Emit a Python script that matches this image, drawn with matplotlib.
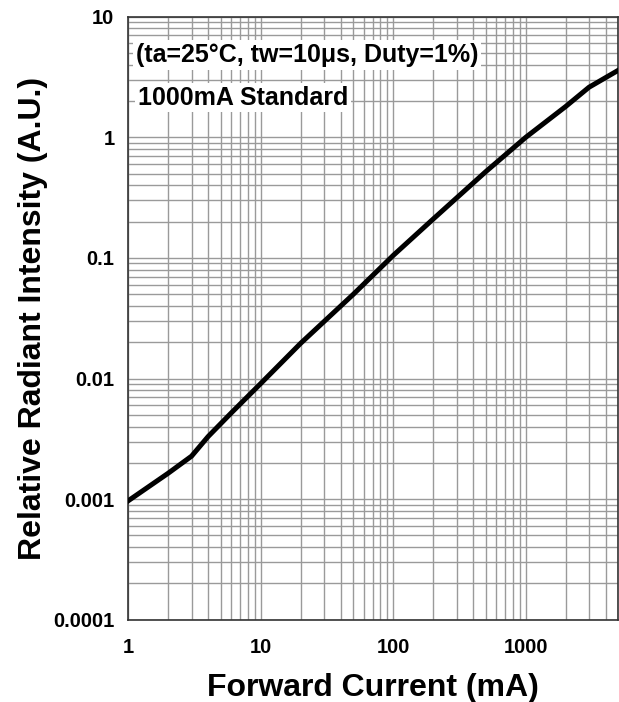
import matplotlib
matplotlib.use('Agg')
import matplotlib.pyplot as plt
from matplotlib.ticker import LogLocator, NullFormatter, FixedLocator

plt.rcParams['font.family'] = ['Liberation Sans', 'DejaVu Sans']
plt.rcParams['font.weight'] = 'bold'

# forward current (mA) vs relative radiant intensity
current = [1, 2, 3, 4, 6, 10, 20, 50, 100, 200, 500, 1000, 2000, 3000, 5000]
intensity = [0.00097, 0.00164, 0.00227, 0.0033, 0.0052, 0.0091, 0.0196, 0.05,
             0.105, 0.21, 0.52, 1.0, 1.8, 2.6, 3.6]

x_ticks = [1, 10, 100, 1000]
x_labels = ['1', '10', '100', '1000']
y_ticks = [0.0001, 0.001, 0.01, 0.1, 1, 10]
y_labels = ['0.0001', '0.001', '0.01', '0.1', '1', '10']

fig = plt.figure(figsize=(6.19, 7.02), dpi=100)
ax = fig.add_axes([0.2073, 0.1172, 0.7917, 0.859])

ax.plot(current, intensity, color='black', lw=3.6, zorder=3)

ax.set_xscale('log')
ax.set_yscale('log')
ax.set_xlim(1, 5000)
ax.set_ylim(0.0001, 10)

ax.xaxis.set_major_locator(FixedLocator(x_ticks))
ax.set_xticklabels(x_labels)
ax.yaxis.set_major_locator(FixedLocator(y_ticks))
ax.set_yticklabels(y_labels)
ax.xaxis.set_minor_locator(LogLocator(base=10, subs=range(2, 10), numticks=20))
ax.yaxis.set_minor_locator(LogLocator(base=10, subs=range(2, 10), numticks=20))
ax.xaxis.set_minor_formatter(NullFormatter())
ax.yaxis.set_minor_formatter(NullFormatter())

ax.tick_params(which='both', length=0, labelsize=14.5)
ax.tick_params(axis='x', pad=13)
ax.tick_params(axis='y', pad=10)
ax.grid(True, which='both', color='#9a9a9a', lw=1.0)
ax.set_axisbelow(True)
for s in ax.spines.values():
    s.set_color('#333333')
    s.set_linewidth(1.2)

ax.set_xlabel('Forward Current (mA)', fontsize=23, fontweight='bold', labelpad=12)
ax.set_ylabel('Relative Radiant Intensity (A.U.)', fontsize=23, fontweight='bold', labelpad=4)

ax.text(0.016, 0.9365, '(ta=25°C, tw=10\u03bcs, Duty=1%)', transform=ax.transAxes,
        fontsize=18, fontweight='bold', va='center', ha='left', zorder=4,
        bbox=dict(facecolor='white', edgecolor='none', pad=2))
ax.text(0.02, 0.866, '1000mA Standard', transform=ax.transAxes,
        fontsize=18, fontweight='bold', va='center', ha='left', zorder=4,
        bbox=dict(facecolor='white', edgecolor='none', pad=2))

fig.savefig('out.png', dpi=100)
